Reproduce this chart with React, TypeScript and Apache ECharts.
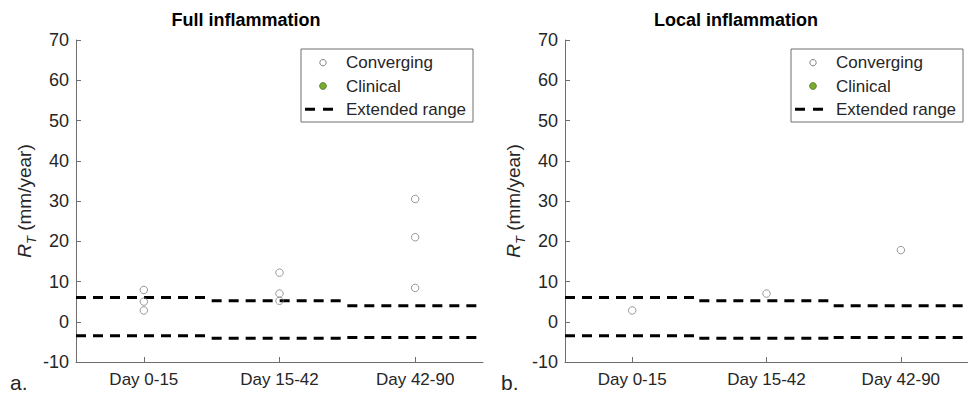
import React, { useEffect, useRef } from "react";
import * as echarts from "echarts";

// Time windows along the x axis
const categories = ["Day 0-15", "Day 15-42", "Day 42-90"];

// R_T values (mm/year) per time window, converging cases
const fullConverging = [
  [7.9, 5.0, 2.8],
  [12.2, 7.0, 5.2],
  [30.5, 21.0, 8.4],
];
const localConverging = [[2.8], [7.0], [17.8]];

// Extended range limits per time window
const upperLimit = [6.0, 5.2, 4.0];
const lowerLimit = [-3.5, -4.1, -3.9];

const yTicks = { min: -10, max: 70, step: 10 };

const panelTitles = ["Full inflammation", "Local inflammation"];
const panelLetters = ["a.", "b."];
const legendNames = ["Converging", "Clinical", "Extended range"];

const FONT = "'Liberation Sans', Arial, Helvetica, sans-serif";
const TEXT = "#262626";
const AXIS = "#6e6e6e";
const MARKER = "#7f7f7f";
const GREEN = "#77AC30";

export default function App() {
  const ref = useRef<HTMLDivElement>(null);

  useEffect(() => {
    if (!ref.current) return;
    const chart = echarts.init(ref.current, undefined, { renderer: "svg" });

    const panels = [
      { values: fullConverging, left: 76, dx: 0 },
      { values: localConverging, left: 565, dx: 490 },
    ];

    const grid = panels.map((p) => ({
      left: p.left,
      top: 40,
      width: 407,
      height: 322,
    }));

    const xAxis = panels.map((_, i) => ({
      type: "value",
      gridIndex: i,
      min: 0.5,
      max: categories.length + 0.5,
      axisLine: { onZero: false, lineStyle: { color: AXIS, width: 1 } },
      axisTick: {
        inside: true,
        length: 5,
        customValues: categories.map((_, k) => k + 1),
        lineStyle: { color: AXIS },
      },
      axisLabel: {
        customValues: categories.map((_, k) => k + 1),
        formatter: (v: number) => categories[Math.round(v) - 1] ?? "",
        color: TEXT,
        fontSize: 17,
        fontFamily: FONT,
        margin: 9,
      },
      splitLine: { show: false },
    }));

    const yAxis = panels.map((_, i) => ({
      type: "value",
      gridIndex: i,
      min: yTicks.min,
      max: yTicks.max,
      interval: yTicks.step,
      axisLine: { show: true, onZero: false, lineStyle: { color: AXIS, width: 1 } },
      axisTick: { show: true, inside: true, length: 5, lineStyle: { color: AXIS } },
      axisLabel: { color: TEXT, fontSize: 18, fontFamily: FONT, margin: 7 },
      splitLine: { show: false },
      name: "{i|R}{s|T}{n| (mm/year)}",
      nameLocation: "middle",
      nameRotate: 90,
      nameGap: 38,
      nameTextStyle: {
        fontFamily: FONT,
        color: TEXT,
        rich: {
          i: { fontSize: 19, fontStyle: "italic", fontFamily: FONT, color: TEXT, lineHeight: 19, verticalAlign: "top" },
          s: { fontSize: 13, fontStyle: "italic", fontFamily: FONT, color: TEXT, lineHeight: 13, verticalAlign: "bottom" },
          n: { fontSize: 19, fontFamily: FONT, color: TEXT, lineHeight: 23, verticalAlign: "top" },
        },
      },
    }));

    const series: any[] = [];
    panels.forEach((p, i) => {
      const pts: number[][] = [];
      p.values.forEach((vals, k) => vals.forEach((v) => pts.push([k + 1, v])));
      series.push({
        type: "scatter",
        name: legendNames[0],
        xAxisIndex: i,
        yAxisIndex: i,
        data: pts,
        symbol: "circle",
        symbolSize: 7.5,
        itemStyle: { color: "rgba(255,255,255,0)", borderColor: MARKER, borderWidth: 1 },
        z: 3,
      });
      [upperLimit, lowerLimit].forEach((lim) => {
        lim.forEach((v, k) => {
          series.push({
            type: "line",
            name: legendNames[2],
            xAxisIndex: i,
            yAxisIndex: i,
            data: [
              [k + 0.5, v],
              [k + 1.5, v],
            ],
            symbol: "none",
            lineStyle: { color: "#000", width: 3, type: [10, 7], cap: "butt" },
            z: 2,
          });
        });
      });
    });

    const graphic: any[] = [];
    panels.forEach((p, i) => {
      const dx = p.dx;
      graphic.push({
        type: "text",
        x: 246 + dx,
        y: 20,
        style: {
          text: panelTitles[i],
          fontSize: 18,
          fontWeight: "bold",
          fontFamily: FONT,
          fill: "#000",
          align: "center",
          verticalAlign: "middle",
        },
      });
      graphic.push({
        type: "text",
        x: 10 + dx + (i ? 1 : 0),
        y: 382,
        style: {
          text: panelLetters[i],
          fontSize: 21,
          fontFamily: FONT,
          fill: TEXT,
          align: "left",
          verticalAlign: "middle",
        },
      });
      // legend box
      const rows = [62.7, 86, 109.3];
      graphic.push({
        type: "rect",
        shape: { x: 301 + dx, y: 49, width: 172, height: 73 },
        style: { fill: "#fff", stroke: AXIS, lineWidth: 1 },
        z: 10,
      });
      graphic.push({
        type: "circle",
        shape: { cx: 323 + dx, cy: rows[0], r: 3.2 },
        style: { fill: "#fff", stroke: MARKER, lineWidth: 1 },
        z: 11,
      });
      graphic.push({
        type: "circle",
        shape: { cx: 323 + dx, cy: rows[1], r: 3.4 },
        style: { fill: GREEN, stroke: "#4e6e22", lineWidth: 0.8 },
        z: 11,
      });
      graphic.push({
        type: "line",
        shape: { x1: 305 + dx, y1: rows[2], x2: 334 + dx, y2: rows[2] },
        style: { stroke: "#000", lineWidth: 3, lineDash: [10, 8] },
        z: 11,
      });
      legendNames.forEach((name, r) => {
        graphic.push({
          type: "text",
          x: 346 + dx,
          y: rows[r],
          style: {
            text: name,
            fontSize: 17,
            fontFamily: FONT,
            fill: TEXT,
            align: "left",
            verticalAlign: "middle",
          },
          z: 11,
        });
      });
    });

    chart.setOption({
      animation: false,
      backgroundColor: "#fff",
      grid,
      xAxis,
      yAxis,
      series,
      graphic,
    });

    return () => chart.dispose();
  }, []);

  return (
    <div
      ref={ref}
      style={{ position: "absolute", left: 0, top: 0, width: 968, height: 396 }}
    />
  );
}
